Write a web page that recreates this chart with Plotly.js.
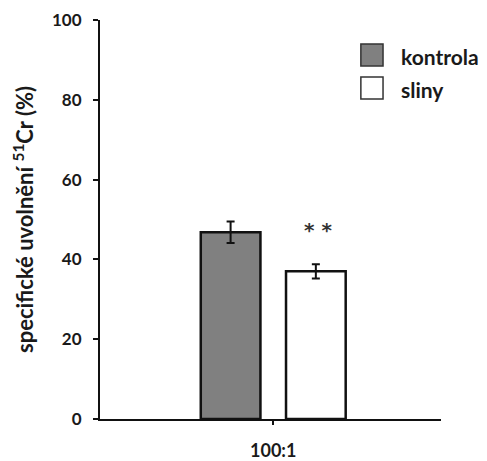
<!DOCTYPE html>
<html>
<head>
<meta charset="utf-8">
<script src="https://cdn.plot.ly/plotly-3.0.1.min.js"></script>
<style>html,body{margin:0;padding:0;background:#fff;}#chart{width:487px;height:461px;}</style>
</head>
<body>
<div id="chart"></div>
<script>
const categories = ["100:1"];
const seriesNames = ["kontrola", "sliny"];
const kontrolaValues = [46.8];
const kontrolaErrors = [2.7];
const slinyValues = [37.0];
const slinyErrors = [1.8];
const significance = "* *";
const yTickVals = [0, 20, 40, 60, 80, 100];

const font = "Lato, 'Open Sans', 'Liberation Sans', sans-serif";
const textColor = "#1a1a1a";

const traces = [
  {
    type: "bar", name: seriesNames[0], x: categories, y: kontrolaValues,
    error_y: {type: "data", array: kontrolaErrors, visible: true, color: "#111", thickness: 2, width: 4},
    marker: {color: "#808080", line: {color: "#111", width: 2.5}},
    showlegend: false, hoverinfo: "skip"
  },
  {
    type: "bar", name: seriesNames[1], x: categories, y: slinyValues,
    error_y: {type: "data", array: slinyErrors, visible: true, color: "#111", thickness: 2, width: 4},
    marker: {color: "#ffffff", line: {color: "#111", width: 2.5}},
    showlegend: false, hoverinfo: "skip"
  }
];

const legendColors = ["#808080", "#ffffff"];
const shapes = [];
const annotations = [];
seriesNames.forEach((name, i) => {
  const top = 0.94 - i * 0.083;
  shapes.push({type: "rect", xref: "paper", yref: "paper",
    x0: 0.765, x1: 0.83, y0: top - 0.055, y1: top,
    fillcolor: legendColors[i], line: {color: "#333", width: 1.5}});
  annotations.push({xref: "paper", yref: "paper", x: 0.876, y: top - 0.032,
    xanchor: "left", yanchor: "middle", showarrow: false, text: name,
    font: {family: font, size: 21, color: textColor, weight: "bold"}});
});
annotations.push({xref: "x", yref: "y", x: 0.13, y: slinyValues[0] + 10.3,
  xanchor: "center", yanchor: "middle", showarrow: false, text: significance,
  font: {family: "'DejaVu Sans', sans-serif", size: 20, color: "#333", weight: "bold"}});

const layout = {
  width: 487, height: 461,
  margin: {l: 100, r: 46, t: 20, b: 42},
  paper_bgcolor: "#fff", plot_bgcolor: "#fff",
  barmode: "group", bargap: 0.5, bargroupgap: 0.3,
  font: {family: font, color: textColor},
  xaxis: {
    type: "category", range: [-0.508, 0.492],
    showline: true, linecolor: "#111", linewidth: 2,
    ticks: "outside", ticklen: 4, tickwidth: 2, tickcolor: "#111",
    tickfont: {family: font, size: 18, color: textColor, weight: "bold"},
    ticklabelstandoff: 10,
    showgrid: false, zeroline: false, fixedrange: true
  },
  yaxis: {
    range: [0, 100], tickvals: yTickVals,
    showline: true, linecolor: "#111", linewidth: 2,
    ticks: "outside", ticklen: 5, tickwidth: 2, tickcolor: "#111",
    tickfont: {family: font, size: 17, color: textColor, weight: "bold"},
    ticklabelstandoff: 8,
    showgrid: false, zeroline: false, fixedrange: true,
    title: {text: "specifické uvolnění <sup>51</sup>Cr (%)", standoff: 12,
      font: {family: font, size: 22, color: textColor, weight: "bold"}}
  },
  shapes: shapes,
  annotations: annotations
};

Plotly.newPlot("chart", traces, layout, {displayModeBar: false, staticPlot: true});
</script>
</body>
</html>
